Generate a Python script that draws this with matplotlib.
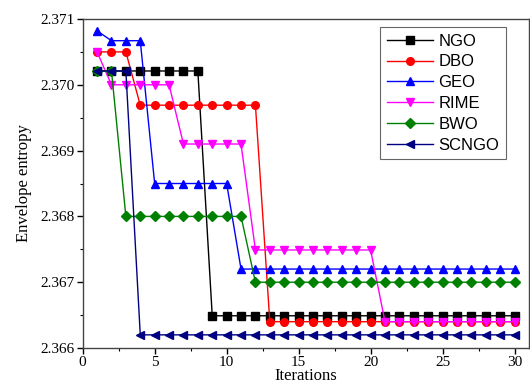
import matplotlib.pyplot as plt
from matplotlib.ticker import MultipleLocator
import numpy as np

iterations = np.arange(1, 31)

ngo = [2.37021] * 8 + [2.36649] * 22
dbo = [2.37050] * 3 + [2.36969] * 9 + [2.36640] * 18
geo = [2.37082] + [2.37067] * 3 + [2.36850] * 6 + [2.36720] * 20
rime = [2.37050] + [2.37000] * 5 + [2.36910] * 5 + [2.36749] * 9 + [2.36640] * 10
bwo = [2.37021] * 2 + [2.36800] * 9 + [2.36700] * 19
scngo = [2.37021] * 3 + [2.36620] * 27

series = [
    ("NGO", ngo, "black", "s"),
    ("DBO", dbo, "red", "o"),
    ("GEO", geo, "blue", "^"),
    ("RIME", rime, "magenta", "v"),
    ("BWO", bwo, "green", "D"),
    ("SCNGO", scngo, "navy", "<"),
]

fig = plt.figure(figsize=(5.3, 3.86), dpi=100)
ax = fig.add_axes([0.156, 0.0984, 0.842, 0.8524])

for name, vals, col, mk in series:
    ax.plot(iterations, vals, color=col, marker=mk, markersize=5.5,
            linewidth=1.0, label=name)

ax.set_xlim(0, 31)
ax.set_ylim(2.366, 2.371)
ax.xaxis.set_major_locator(MultipleLocator(5))
ax.xaxis.set_minor_locator(MultipleLocator(2.5))
ax.yaxis.set_major_locator(MultipleLocator(0.001))
ax.yaxis.set_minor_locator(MultipleLocator(0.0005))
ax.yaxis.set_major_formatter(plt.FormatStrFormatter("%.3f"))

serif = "Liberation Serif"
ax.tick_params(which="major", direction="out", length=4, width=1, labelsize=11, pad=2)
ax.tick_params(which="minor", direction="out", length=2.5, width=0.8)
ax.tick_params(axis="x", which="both", top=False)
ax.tick_params(axis="y", which="both", right=False)
for lbl in ax.get_xticklabels() + ax.get_yticklabels():
    lbl.set_fontfamily(serif)
for sp in ax.spines.values():
    sp.set_color("#444444")
    sp.set_linewidth(1.0)

ax.set_xlabel("Iterations", fontfamily=serif, fontsize=12, labelpad=-1)
ax.set_ylabel("Envelope entropy", fontfamily=serif, fontsize=12, labelpad=6)

leg = ax.legend(loc="upper right", bbox_to_anchor=(0.9485, 0.9757), borderaxespad=0,
                fancybox=False, edgecolor="#666666", framealpha=1, handlelength=2.8,
                borderpad=0.4, labelspacing=0.35, handletextpad=0.3,
                prop={"family": "Liberation Sans", "size": 12})
leg.get_frame().set_linewidth(0.8)

fig.savefig("out.png", dpi=100)
